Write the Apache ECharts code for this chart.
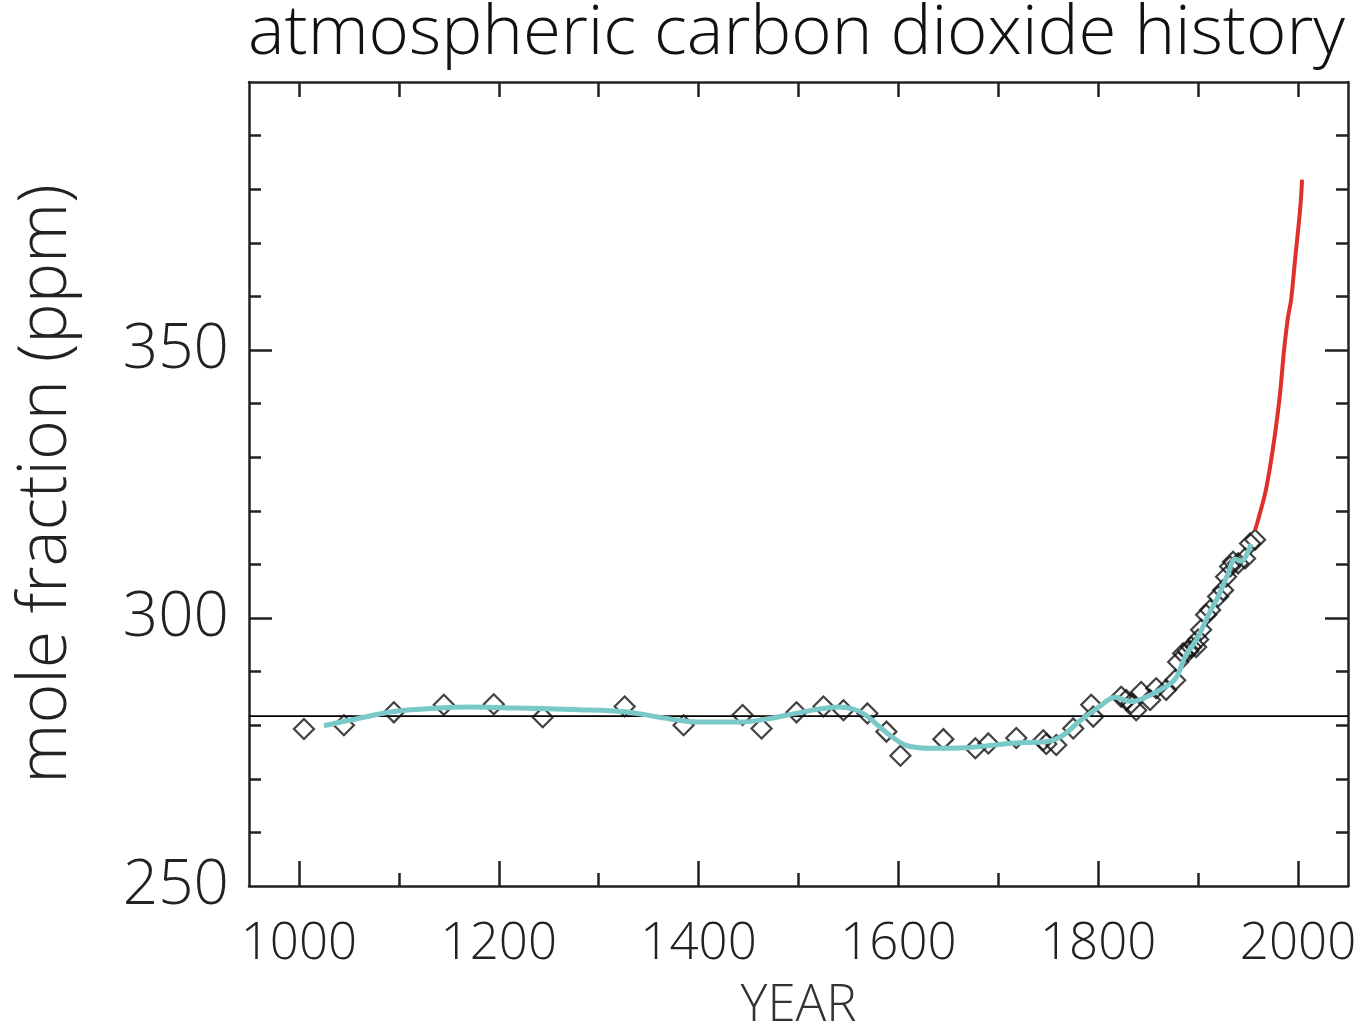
<!DOCTYPE html>
<html>
<head>
<meta charset="utf-8">
<script src="https://cdn.jsdelivr.net/npm/echarts@6/dist/echarts.min.js"></script>
<style>
html,body{margin:0;padding:0;background:#fff;}
#chart{width:1365px;height:1026px;}
</style>
</head>
<body>
<div id="chart"></div>
<script>
// ---- data ----
const iceYears = [1005,1045,1095,1145,1195,1244,1326,1385,1444,1463,1498,1525,1545,1569,1588,1602,1645,1677,1690,1718,1745,1748,1758,1775,1793,1795,
  1823,1828,1833,1838,1843,1852,1858,1868,1877,1880,1885,1890,1893,1898,1900,1903,1908,1912,1920,1925,1928,1932,1935,1940,1947,1952,1957];
const icePpm = [279.3,280.0,282.4,283.8,283.9,281.5,283.5,280.0,281.9,279.4,282.4,283.5,282.8,282.2,278.8,274.3,277.4,275.7,276.6,277.6,277.2,276.5,276.3,279.4,283.8,281.6,
  285.3,284.7,284.1,282.8,286.2,284.7,286.9,286.6,288.4,291.8,293.4,293.8,294.6,294.6,296.0,297.8,300.6,301.5,304.0,305.2,307.7,309.6,310.5,310.2,311.1,313.9,314.6];

const splineYears = [1025,1060,1097,1140,1173,1220,1280,1326,1370,1400,1443,1470,1497,1520,1540,1555,1567,1587,1607,1633,1667,1717,1747,1763,1783,1800,1817,1833,1845,1860,1877,1887,1900,1910,1920,1930,1937,1943,1953];
const splinePpm  = [279.9,281.3,282.6,283.2,283.4,283.2,282.9,282.5,281.2,280.6,280.6,281.2,282.2,283.0,283.4,283.0,281.9,278.8,276.3,275.7,275.8,276.7,276.9,277.9,281.0,283.3,285.2,284.4,285.0,286.4,288.6,292.8,296.5,300.5,304.0,308.3,311.0,310.6,313.8];

const directYears = [1957,1960,1967,1972,1977,1982,1986,1990,1993,1997,2002,2004];
const directPpm   = [316.4,318.3,323.2,328.2,334.4,341.9,350.0,356.2,359.3,366.8,376.1,381.8];

const refLevel = 281.7;

const xMajorTicks = [1000,1200,1400,1600,1800,2000];
const xMinorTicks = [1100,1300,1500,1700,1900];
const xTopTicks = [1000,1100,1200,1300,1400,1500,1600,1700,1800,1900,2000];
const yLabels = [250,300,350];
const yMajorTicks = [300,350];
const yMinorTicks = [260,270,280,290,310,320,330,340,360,370,380,390];

const titleText = 'atmospheric carbon dioxide history';
const yName = 'mole fraction (ppm)';
const xName = 'YEAR';

// ---- chart ----
const FONT = 'Open Sans';
const AX = '#222';
const xRange = {min: 950, max: 2050};
const yRange = {min: 250, max: 400};

const chart = echarts.init(document.getElementById('chart'), null, {renderer: 'canvas'});

function xAx(opts){
  return Object.assign({type:'value', min:xRange.min, max:xRange.max, splitLine:{show:false},
    axisLine:{show:false}, axisLabel:{show:false}, axisTick:{show:false}}, opts);
}
function yAx(opts){
  return Object.assign({type:'value', min:yRange.min, max:yRange.max, splitLine:{show:false},
    axisLine:{show:false}, axisLabel:{show:false}, axisTick:{show:false}}, opts);
}
const plain = v => String(v);

const option = {
  backgroundColor:'#fff',
  animation:false,
  title:{text:titleText, left:243, top:-5,
    textStyle:{fontFamily:FONT, fontWeight:300, fontSize:69, color:'#111'}},
  grid:{left:249, right:17, top:82, bottom:140, containLabel:false, outerBoundsMode:'none'},
  xAxis:[
    xAx({position:'bottom',
      axisLine:{show:true, onZero:false, lineStyle:{color:AX, width:2.5}},
      axisTick:{show:true, inside:true, length:25, customValues:xMajorTicks, lineStyle:{color:AX, width:2.5}},
      axisLabel:{show:true, customValues:xMajorTicks, formatter:plain, margin:33, fontFamily:FONT, fontWeight:300, fontSize:51, color:'#222'},
      name:xName, nameLocation:'middle', nameGap:95,
      nameTextStyle:{fontFamily:FONT, fontWeight:300, fontSize:51, color:'#333'}}),
    xAx({position:'bottom',
      axisTick:{show:true, inside:true, length:13, customValues:xMinorTicks, lineStyle:{color:AX, width:2.5}}}),
    xAx({position:'top',
      axisLine:{show:true, onZero:false, lineStyle:{color:AX, width:2.5}},
      axisTick:{show:true, inside:true, length:15, customValues:xTopTicks, lineStyle:{color:AX, width:2.5}}})
  ],
  yAxis:[
    yAx({position:'left',
      axisLine:{show:true, onZero:false, lineStyle:{color:AX, width:2.5}},
      axisTick:{show:true, inside:true, length:23, customValues:yMajorTicks, lineStyle:{color:AX, width:2.5}},
      axisLabel:{show:true, customValues:yLabels, formatter:plain, margin:20, fontFamily:FONT, fontWeight:300, fontSize:62, color:'#222'},
      name:yName, nameLocation:'middle', nameGap:168, nameRotate:90,
      nameTextStyle:{fontFamily:FONT, fontWeight:300, fontSize:68, color:'#222'}}),
    yAx({position:'left',
      axisTick:{show:true, inside:true, length:12, customValues:yMinorTicks, lineStyle:{color:AX, width:2.5}}}),
    yAx({position:'right',
      axisLine:{show:true, onZero:false, lineStyle:{color:AX, width:2.5}},
      axisTick:{show:true, inside:true, length:23, customValues:yMajorTicks, lineStyle:{color:AX, width:2.5}}}),
    yAx({position:'right',
      axisTick:{show:true, inside:true, length:12, customValues:yMinorTicks, lineStyle:{color:AX, width:2.5}}})
  ],
  series:[
    {type:'line', name:'reference', xAxisIndex:0, yAxisIndex:0, z:2, symbol:'none',
      data:[[xRange.min, refLevel],[xRange.max, refLevel]],
      lineStyle:{color:'#000', width:1.6}},
    {type:'scatter', name:'ice core', xAxisIndex:0, yAxisIndex:0, z:3,
      symbol:'diamond', symbolSize:[20,20],
      data:iceYears.map((y,i)=>[y, icePpm[i]]),
      itemStyle:{color:'rgba(255,255,255,0)', borderColor:'#111', borderWidth:2.2}},
    {type:'line', name:'spline', xAxisIndex:0, yAxisIndex:0, z:4, symbol:'none', smooth:0.35,
      data:splineYears.map((y,i)=>[y, splinePpm[i]]),
      lineStyle:{color:'#79c9c9', width:5}},
    {type:'line', name:'direct', xAxisIndex:0, yAxisIndex:0, z:4, symbol:'none', smooth:0.3,
      data:directYears.map((y,i)=>[y, directPpm[i]]),
      lineStyle:{color:'#e0302c', width:4}}
  ]
};
chart.setOption(option);
</script>
</body>
</html>
